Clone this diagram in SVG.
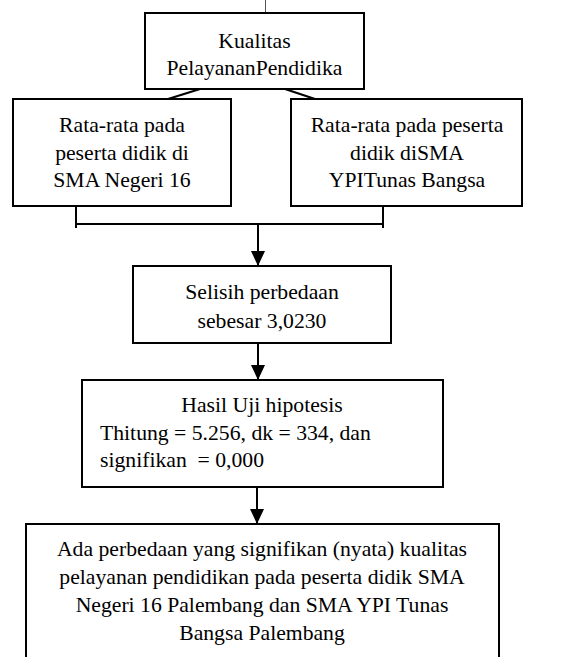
<svg xmlns="http://www.w3.org/2000/svg" width="577" height="657" viewBox="0 0 577 657">
<style>
.box{fill:#fff;stroke:#000;stroke-width:2}
.c{text-anchor:middle}
.ln{stroke:#000;stroke-width:2;fill:none}
</style>
<defs>
<marker id="arr" markerWidth="16" markerHeight="14" refX="15" refY="7" orient="auto" markerUnits="userSpaceOnUse">
<path d="M0,0 L15,7 L0,14 Z" fill="#000"/>
</marker>
</defs>
<rect width="577" height="657" fill="#fff"/>
<g id="connectors">
<line x1="265.5" y1="0" x2="265.5" y2="13" stroke="#555" stroke-width="1"/>
<line class="ln" x1="200" y1="89" x2="168" y2="99"/>
<line class="ln" x1="285" y1="89" x2="315" y2="99"/>
<line class="ln" x1="76" y1="206" x2="76" y2="228"/>
<line class="ln" x1="383" y1="206" x2="383" y2="228"/>
<line class="ln" x1="76" y1="224" x2="383" y2="224"/>
<line class="ln" x1="258" y1="224" x2="258" y2="266" marker-end="url(#arr)"/>
<line class="ln" x1="258" y1="343" x2="258" y2="380" marker-end="url(#arr)"/>
<line class="ln" x1="257" y1="477" x2="257" y2="524" marker-end="url(#arr)"/>
</g>
<g id="node-kualitas">
<rect class="box" x="145" y="13" width="219" height="76"/>
<text class="c" x="254.5" y="48" font-family="Liberation Serif, serif" font-size="21.7">Kualitas</text>
<text class="c" x="254.5" y="75" font-family="Liberation Serif, serif" font-size="21.7">PelayananPendidika</text>
</g>
<g id="node-sma16">
<rect class="box" x="13" y="99" width="218" height="107"/>
<text class="c" x="122" y="132" font-family="Liberation Serif, serif" font-size="21.7">Rata-rata pada</text>
<text class="c" x="122" y="159.5" font-family="Liberation Serif, serif" font-size="21.7">peserta didik di</text>
<text class="c" x="122" y="187" font-family="Liberation Serif, serif" font-size="21.7">SMA Negeri 16</text>
</g>
<g id="node-ypi">
<rect class="box" x="291" y="99" width="231" height="107"/>
<text class="c" x="407" y="132" font-family="Liberation Serif, serif" font-size="21.7">Rata-rata pada peserta</text>
<text class="c" x="407" y="159.5" font-family="Liberation Serif, serif" font-size="21.7">didik diSMA</text>
<text class="c" x="407" y="187" font-family="Liberation Serif, serif" font-size="21.7">YPITunas Bangsa</text>
</g>
<g id="node-selisih">
<rect class="box" x="133" y="266" width="258" height="77"/>
<text class="c" x="262" y="299" font-family="Liberation Serif, serif" font-size="21.7">Selisih perbedaan</text>
<text class="c" x="262" y="327.5" font-family="Liberation Serif, serif" font-size="21.7">sebesar 3,0230</text>
</g>
<g id="node-hasil">
<rect class="box" x="82" y="380" width="361" height="107"/>
<text class="c" x="262" y="412" font-family="Liberation Serif, serif" font-size="21.7">Hasil Uji hipotesis</text>
<text x="100" y="440" font-family="Liberation Serif, serif" font-size="21.7">Thitung = 5.256, dk = 334, dan</text>
<text x="100" y="467" font-family="Liberation Serif, serif" font-size="21.7" xml:space="preserve">signifikan  = 0,000</text>
</g>
<g id="node-kesimpulan">
<path class="box" d="M26,660 L26,524 L499,524 L499,660"/>
<text class="c" x="262" y="555.5" font-family="Liberation Serif, serif" font-size="21.7">Ada perbedaan yang signifikan (nyata) kualitas</text>
<text class="c" x="262" y="583.5" font-family="Liberation Serif, serif" font-size="21.7">pelayanan pendidikan pada peserta didik SMA</text>
<text class="c" x="262" y="611.5" font-family="Liberation Serif, serif" font-size="21.7">Negeri 16 Palembang dan SMA YPI Tunas</text>
<text class="c" x="262" y="640" font-family="Liberation Serif, serif" font-size="21.7">Bangsa Palembang</text>
</g>
</svg>
